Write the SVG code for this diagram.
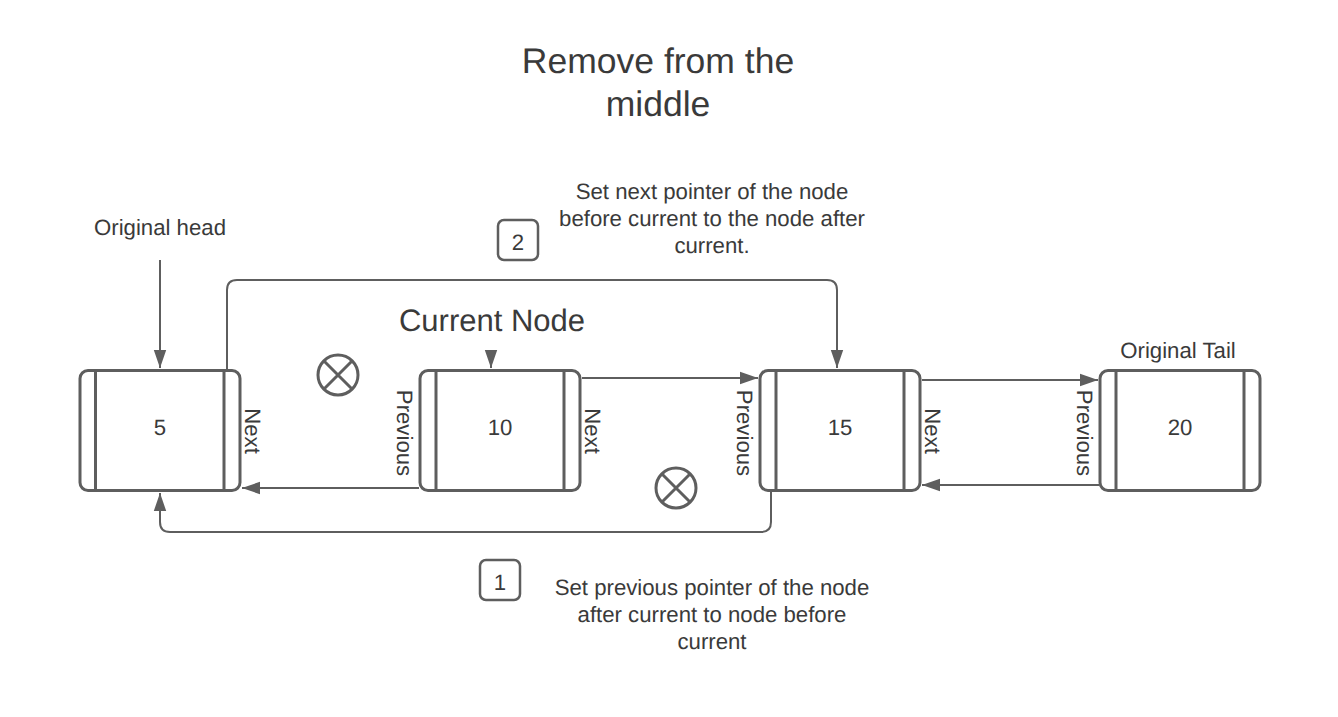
<svg xmlns="http://www.w3.org/2000/svg" width="1338" height="717" viewBox="0 0 1338 717">
<style>
text{font-family:"Liberation Sans",Arial,sans-serif;fill:#3a3a3a;text-anchor:middle;text-rendering:geometricPrecision}
.s{font-size:22.2px}
.t{font-size:35.5px}
.c{font-size:31px}
.box{fill:#fff;stroke:#5e5e5e;stroke-width:3}
.bar{stroke:#5e5e5e;stroke-width:3;fill:none}
.line{stroke:#5e5e5e;stroke-width:2;fill:none}
.tag{fill:#fff;stroke:#5e5e5e;stroke-width:2.500}
</style>
<defs>
<marker id="arrow" markerUnits="userSpaceOnUse" markerWidth="20" markerHeight="14" refX="18" refY="7" orient="auto"><path d="M0,0.800 L18,7 L0,13.200 Z" fill="#5e5e5e"/></marker>
</defs>
<rect width="1338" height="717" fill="#fff"/>
<g id="title"><text class="t" x="658" y="73">Remove from the</text><text class="t" x="658" y="116">middle</text></g>
<g id="connectors">
<path class="line" marker-end="url(#arrow)" d="M160,260 V368"/>
<path class="line" d="M227,370 V290 Q227,280 237,280 H827 Q837,280 837,290 V368" marker-end="url(#arrow)"/>
<path class="line" marker-end="url(#arrow)" d="M491,350 V368"/>
<path class="line" marker-end="url(#arrow)" d="M582,378 H758"/>
<path class="line" marker-end="url(#arrow)" d="M922,380 H1098"/>
<path class="line" marker-end="url(#arrow)" d="M419,488 H242"/>
<path class="line" marker-end="url(#arrow)" d="M1099,485 H922"/>
<path class="line" marker-end="url(#arrow)" d="M771,491 V522 Q771,532 761,532 H170 Q160,532 160,522 V493"/>
</g>
<g id="node-5"><rect class="box" x="80" y="370.500" width="160" height="120" rx="8"/><path class="bar" d="M95.500,371 V490 M224,371 V490"/><text class="s" x="160" y="435">5</text></g>
<g id="node-10"><rect class="box" x="420" y="370.500" width="160" height="120" rx="8"/><path class="bar" d="M436,371 V490 M564,371 V490"/><text class="s" x="500" y="435">10</text></g>
<g id="node-15"><rect class="box" x="760" y="370.500" width="160" height="120" rx="8"/><path class="bar" d="M776,371 V490 M904,371 V490"/><text class="s" x="840" y="435">15</text></g>
<g id="node-20"><rect class="box" x="1100" y="370.500" width="160" height="120" rx="8"/><path class="bar" d="M1116,371 V490 M1244,371 V490"/><text class="s" x="1180" y="435">20</text></g>
<g id="label-next-5"><text class="s" transform="translate(245,431) rotate(90)">Next</text></g>
<g id="label-prev-10"><text class="s" transform="translate(397,433) rotate(90)">Previous</text></g>
<g id="label-next-10"><text class="s" transform="translate(585,431) rotate(90)">Next</text></g>
<g id="label-prev-15"><text class="s" transform="translate(737,433) rotate(90)">Previous</text></g>
<g id="label-next-15"><text class="s" transform="translate(925,431) rotate(90)">Next</text></g>
<g id="label-prev-20"><text class="s" transform="translate(1077,433) rotate(90)">Previous</text></g>
<g id="x-1"><circle class="bar" cx="338" cy="375" r="20"/><path class="bar" d="M324,361 L352,389 M352,361 L324,389"/></g>
<g id="x-2"><circle class="bar" cx="676" cy="488" r="20"/><path class="bar" d="M662,474 L690,502 M690,474 L662,502"/></g>
<g id="tag-2"><rect class="tag" x="498" y="220" width="40" height="40" rx="6"/><text class="s" x="518" y="250">2</text></g>
<g id="tag-1"><rect class="tag" x="480" y="560" width="40" height="40" rx="6"/><text class="s" x="500" y="590">1</text></g>
<g id="label-head"><text class="s" x="160" y="235">Original head</text></g>
<g id="label-tail"><text class="s" x="1178" y="358">Original Tail</text></g>
<g id="label-current"><text class="c" x="492" y="331">Current Node</text></g>
<g id="note-2"><text class="s" x="712" y="199">Set next pointer of the node</text><text class="s" x="712" y="226">before current to the node after</text><text class="s" x="712" y="253">current.</text></g>
<g id="note-1"><text class="s" x="712" y="595">Set previous pointer of the node</text><text class="s" x="712" y="622">after current to node before</text><text class="s" x="712" y="649">current</text></g>
</svg>
